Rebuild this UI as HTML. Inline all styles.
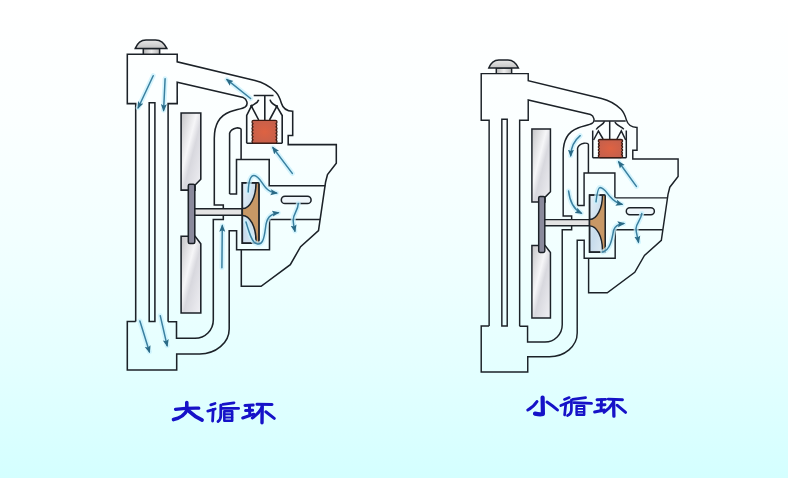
<!DOCTYPE html>
<html><head><meta charset="utf-8">
<style>
html,body{margin:0;padding:0;}
body{width:788px;height:478px;overflow:hidden;background:linear-gradient(to bottom,#ffffff 0%,#fbffff 25%,#f2ffff 50%,#e5ffff 75%,#d4ffff 100%);}
svg{position:absolute;left:0;top:0;}
</style></head><body>
<svg width="788" height="478" viewBox="0 0 788 478">
<defs>
<linearGradient id="blade" x1="0" y1="0" x2="1" y2="1">
<stop offset="0" stop-color="#c4c4c6"/><stop offset="0.4" stop-color="#f6f6f8"/><stop offset="0.56" stop-color="#d8d8de"/><stop offset="1" stop-color="#f0f0f4"/>
</linearGradient>
<linearGradient id="dome" x1="0" y1="0" x2="0" y2="1">
<stop offset="0" stop-color="#e8e8e8"/><stop offset="1" stop-color="#c4c4c4"/>
</linearGradient>
<linearGradient id="neck" x1="0" y1="0" x2="1" y2="0">
<stop offset="0" stop-color="#b8b8b8"/><stop offset="0.5" stop-color="#eeeeee"/><stop offset="1" stop-color="#b8b8b8"/>
</linearGradient>
<linearGradient id="imp" x1="0" y1="0" x2="1" y2="1">
<stop offset="0" stop-color="#e8f2f8"/><stop offset="0.5" stop-color="#c8dcec"/><stop offset="1" stop-color="#e0ecf4"/>
</linearGradient>
<radialGradient id="red" cx="0.5" cy="0.5" r="0.6">
<stop offset="0" stop-color="#de6242"/><stop offset="1" stop-color="#c4604c"/>
</radialGradient>
<marker id="ah" viewBox="0 0 10 10" refX="8" refY="5" markerWidth="5" markerHeight="5" orient="auto" markerUnits="strokeWidth">
<path d="M0,1 L10,5 L0,9 L2,5 Z" fill="#2a6a86"/>
</marker>
<g id="body" fill="none" stroke="#1c2228" stroke-width="1.55" stroke-linejoin="miter">
  <!-- fan blades -->
  <path d="M181.1,113 H200.8 V179.2 L195.1,185 V190.1 H181.1 Z" fill="url(#blade)"/>
  <path d="M181.1,236.2 H195.1 L200.8,243.7 V313 H181.1 Z" fill="url(#blade)"/>
  <!-- shaft -->
  <path d="M194.5,208.8 H242.3 V215.2 H194.5" fill="#e4e4e4"/>
  <!-- hub -->
  <rect x="188.3" y="184.3" width="6.5" height="59.2" rx="1.5" fill="#8a8a9c"/>
  <!-- cap -->
  <path d="M143.3,54.3 V48.4 H159.6 V54.3" fill="url(#neck)"/>
  <path d="M135.3,48.4 C137,44 140.5,40 146,39.9 H155.5 C161,40 164.8,44 166.8,48.4 Z" fill="url(#dome)"/>
  <!-- outer contour -->
  <path d="M135.7,321.4 V103.6 H127.3 V54.3 H177.2 V61.8 L255,80.6 C262,82.3 270,86.5 275.7,92 C279,95.5 280.5,100 281.4,103.2 C282.5,107 284.5,111 292.7,111.3 V135.4 H288.2 V144.6 H336.3 V163.2 L327.5,174.5 L325.6,182 L318.5,230.7 L300.6,246.7 L290.3,264.6 L261.1,286.3 H241.3 V249.7"/>
  <!-- radiator inner tube -->
  <path d="M149.2,321.4 V102.7 H154.9 V321.4 Z"/>
  <!-- pipe lower line + return inner wall -->
  <path d="M168.1,321.7 V103.6 H177.2 V82.2 L243.3,97.6 C247,99 248.5,104.5 245.3,106.8 C242,109 236,109.5 230,111.8 C220,115.5 214.3,124 214.3,138.3 V204.9 H223.3 V208.8"/>
  <path d="M223.3,215.2 V219.5 H213.3 V320 A18.3 18.3 0 0 1 195,338.3 H176.5 V321.7 H168.1"/>
  <!-- bottom box outer + return outer wall -->
  <path d="M135.7,321.4 H127.3 V370 H176.7 V353.9 H199.5 A29.5 25 0 0 0 229.2,328.9 V230.7 H236.6 V249.7 H269.5 V219.5 H320.1"/>
  <!-- bypass + upper pump housing -->
  <path d="M229.6,193.9 V133.2 C230.5,130 233,128.5 236.5,127.9 C239,127.7 241,128.2 241.1,129.5 V159.5"/>
  <path d="M229.6,193.9 H236.5 V159.5 H269.2 V185.8 H325.3"/>
  <!-- impeller -->
  <rect x="242.3" y="182.8" width="16.6" height="60.4" fill="url(#imp)"/>
  <path d="M256,183 A13.5 25.6 0 0 1 242.5,208.6 V215.4 A13.5 25.6 0 0 1 256,241 V243 H258.9 V183 Z" fill="#c89866" stroke="none"/>
  <path d="M256,183 A13.5 25.6 0 0 1 242.5,208.6 M242.5,215.4 A13.5 25.6 0 0 1 256,241 V243" stroke-width="1.5"/>
  <rect x="242.3" y="182.8" width="16.6" height="60.4"/>
  <!-- outlet slot -->
  <rect x="281.3" y="196.2" width="29.8" height="7.4" rx="3.7" fill="#eef6fa"/>
</g>
</defs>

<!-- LEFT DIAGRAM -->
<use href="#body"/>
<g fill="none" stroke="#1c2228" stroke-width="1.6">
  <!-- thermostat housing -->
  <path d="M246.7,143.2 V115.5 L251.4,106.1 L258.7,120 M282.2,143.2 V115.5 L276.8,106.4 L269.5,120"/>
  <path d="M246.7,143.2 H282.2"/>
  <path d="M253.7,95.5 H273.5 M264.8,95.5 V120.4"/>
  <path d="M251.4,106.1 C254,104 257.8,103.2 258.7,99.7"/>
  <path d="M276.8,106.4 C274,104.5 270.5,103.2 270.1,99.7"/>
</g>
<circle cx="251.4" cy="106.1" r="1.3" fill="#1c2228"/>
<circle cx="276.8" cy="106.4" r="1.3" fill="#1c2228"/>
<path d="M253.6,120.4 H275.4 A1.6 1.63 0 0 1 275.4,123.66 A1.6 1.63 0 0 1 275.4,126.91 A1.6 1.63 0 0 1 275.4,130.17 A1.6 1.63 0 0 1 275.4,133.43 A1.6 1.63 0 0 1 275.4,136.69 A1.6 1.63 0 0 1 275.4,139.94 A1.6 1.63 0 0 1 275.4,143.20 H253.6 A1.6 1.63 0 0 1 253.6,139.94 A1.6 1.63 0 0 1 253.6,136.69 A1.6 1.63 0 0 1 253.6,133.43 A1.6 1.63 0 0 1 253.6,130.17 A1.6 1.63 0 0 1 253.6,126.91 A1.6 1.63 0 0 1 253.6,123.66 A1.6 1.63 0 0 1 253.6,120.40 Z" fill="url(#red)" stroke="#3c1a12" stroke-width="1.3"/>

<!-- RIGHT DIAGRAM -->
<use href="#body" transform="matrix(0.942,0,0,0.945,361.3,22.3)"/>


<!-- right thermostat -->
<g fill="none" stroke="#1c2228" stroke-width="1.5">
  <path d="M592.7,157.8 V130.4 M626.3,157.8 V130.4"/>
  <path d="M592.7,157.8 H626.3"/>
  <path d="M594.3,121 H625.7 M609.7,121 V139.5"/>
  <path d="M593.6,140 L598.4,131 L603.1,139 M616.9,139 L621.3,131 L625.7,140"/>
  <path d="M604.6,121.3 C603.5,125 598,126 596.2,129.5"/>
  <path d="M615,122 C616,125 621,126.5 623.8,129.2"/>
</g>
<path d="M599.9,139.5 H621.0 A1.6 1.51 0 0 1 621.0,142.52 A1.6 1.51 0 0 1 621.0,145.53 A1.6 1.51 0 0 1 621.0,148.55 A1.6 1.51 0 0 1 621.0,151.57 A1.6 1.51 0 0 1 621.0,154.58 A1.6 1.51 0 0 1 621.0,157.60 H599.9 A1.6 1.51 0 0 1 599.9,154.58 A1.6 1.51 0 0 1 599.9,151.57 A1.6 1.51 0 0 1 599.9,148.55 A1.6 1.51 0 0 1 599.9,145.53 A1.6 1.51 0 0 1 599.9,142.52 A1.6 1.51 0 0 1 599.9,139.50 Z" fill="url(#red)" stroke="#3c1a12" stroke-width="1.3"/>

<!-- ARROWS -->
<g fill="none" stroke="#c8f0fc" stroke-width="5" stroke-linecap="round" opacity="0.75">
<path d="M153.2,75.7 L138.2,107.7 M165.1,78.8 L163.6,110.2 M250.6,98.5 L227,79.6 M292.3,173.4 L273,147.8 M248.2,192 C248.5,182 250.5,175.5 254,175.5 C259,175.5 262,184 266.5,188.5 C269,191 272,192.5 276.5,193 M246,222 C249,232 252,243 256.4,243.6 C262,246 264,240 265.5,228 C266.5,218 270,214 278.2,212.7 M298.3,203.5 C298,211 293,214 293.2,220.2 C293.3,224 294,227 294.9,231 M139.9,321 L149.4,351.8 M160.3,315.8 L167.1,345.6 M221.9,267.7 L222.3,225.7"/>
<path d="M580.2,135.7 C575,140 571,147 570.7,155.6 M568.6,191.1 C570,203 575,210 581.2,213.1 M596,201.8 C597,193 598,187.5 600,187.5 C605,188 607,194 610.2,196.7 C613,200 617,203 621.9,204.3 M602.7,252 C610,250 612,240 613.6,230.2 C615,226 619,224 623.6,223.5 M641.8,213.5 C641,220 636,224 636,228.5 C636,233 637.5,237 638.5,242 M636.4,186.4 L618.8,162"/>
</g>
<g fill="none" stroke="#3a80a0" stroke-width="1.5" stroke-linecap="round" marker-end="url(#ah)">
<path d="M153.2,75.7 L138.2,107.7"/>
<path d="M165.1,78.8 L163.6,110.2"/>
<path d="M250.6,98.5 L227,79.6"/>
<path d="M292.3,173.4 L273,147.8"/>
<path d="M248.2,192 C248.5,182 250.5,175.5 254,175.5 C259,175.5 262,184 266.5,188.5 C269,191 272,192.5 276.5,193"/>
<path d="M246,222 C249,232 252,243 256.4,243.6 C262,246 264,240 265.5,228 C266.5,218 270,214 278.2,212.7"/>
<path d="M298.3,203.5 C298,211 293,214 293.2,220.2 C293.3,224 294,227 294.9,231"/>
<path d="M139.9,321 L149.4,351.8"/>
<path d="M160.3,315.8 L167.1,345.6"/>
<path d="M221.9,267.7 L222.3,225.7"/>
<path d="M580.2,135.7 C575,140 571,147 570.7,155.6"/>
<path d="M568.6,191.1 C570,203 575,210 581.2,213.1"/>
<path d="M596,201.8 C597,193 598,187.5 600,187.5 C605,188 607,194 610.2,196.7 C613,200 617,203 621.9,204.3"/>
<path d="M602.7,252 C610,250 612,240 613.6,230.2 C615,226 619,224 623.6,223.5"/>
<path d="M641.8,213.5 C641,220 636,224 636,228.5 C636,233 637.5,237 638.5,242"/>
<path d="M636.4,186.4 L618.8,162"/>
</g>

<!-- TEXT -->
<g fill="none" stroke="#1612c8" stroke-linecap="round" stroke-linejoin="round">
 <g stroke-width="3.2">
  <path d="M175.5,409.4 Q187,408 198.8,408.2"/>
  <path d="M186.8,402.6 L186.8,410.4 Q184,417 173.5,419.6" stroke-width="3.6"/>
  <path d="M188.9,411.2 Q195,417 202,420" stroke-width="3.8"/>
 </g>
 <g stroke-width="2.8">
  <path d="M210.8,404.8 L215,403.5"/>
  <path d="M207.8,411.1 L215.2,409"/>
  <path d="M213.2,409.5 L212.6,421"/>
  <path d="M222.8,404.3 L234,402.8"/>
  <path d="M220.8,405.2 V416 Q220.5,420 218,421.5"/>
  <path d="M221.5,408.4 H238.6"/>
  <path d="M224.3,411.2 H232.2 V420.8 H224.3 Z" stroke-width="2.5"/>
  <path d="M224.3,414.3 H232.2 M224.3,417.6 H232.2" stroke-width="2.0"/>
 </g>
 <g stroke-width="3.0">
  <path d="M245,405.4 L253.2,405.1"/>
  <path d="M245.6,410.6 L252.6,410.3"/>
  <path d="M249.4,405.4 L249.8,414.5"/>
  <path d="M242.7,418 L253.8,414.2"/>
  <path d="M257,404.2 L272,404.5"/>
  <path d="M262.2,405.4 L262,422.8" stroke-width="3.4"/>
  <path d="M262,407.5 Q258.5,414 252.3,418"/>
  <path d="M265.8,411.8 L274.3,418.4"/>
 </g>
 <g stroke-width="3.0">
  <path d="M542.6,397.5 L542.9,414 Q540,414.8 535,413.6" stroke-width="4.2"/>
  <path d="M537,401.5 Q533.5,407 527.8,410"/>
  <path d="M547,402 Q553,406 557.5,410"/>
 </g>
 <g stroke-width="2.7">
  <path d="M564.4,399.4 L569.2,397.6"/>
  <path d="M560.8,405.6 L569.2,402"/>
  <path d="M565.8,403.5 L564.6,415"/>
  <path d="M572.8,399.3 L585.6,397.6"/>
  <path d="M571.4,400 V410.5 Q571,414 567.5,415.5"/>
  <path d="M573.8,402.7 L591.6,403.4"/>
  <path d="M576.6,405.9 H584.2 V414.8 H576.6 Z" stroke-width="2.4"/>
  <path d="M576.6,408.9 H584.2 M576.6,411.9 H584.2" stroke-width="1.9"/>
 </g>
 <g stroke-width="2.9">
  <path d="M597,399.7 L605.6,399.4"/>
  <path d="M597.5,405 L605,404.7"/>
  <path d="M601.5,400 L601,410.8"/>
  <path d="M594.6,412 L604.4,410"/>
  <path d="M608.3,399.1 L622.5,399.7"/>
  <path d="M613.6,400 L613.9,416.2" stroke-width="3.3"/>
  <path d="M613.4,402.2 Q610,408 604,412.4"/>
  <path d="M617,405.2 L625.6,412.4"/>
 </g>
</g>

</svg>
</body></html>
